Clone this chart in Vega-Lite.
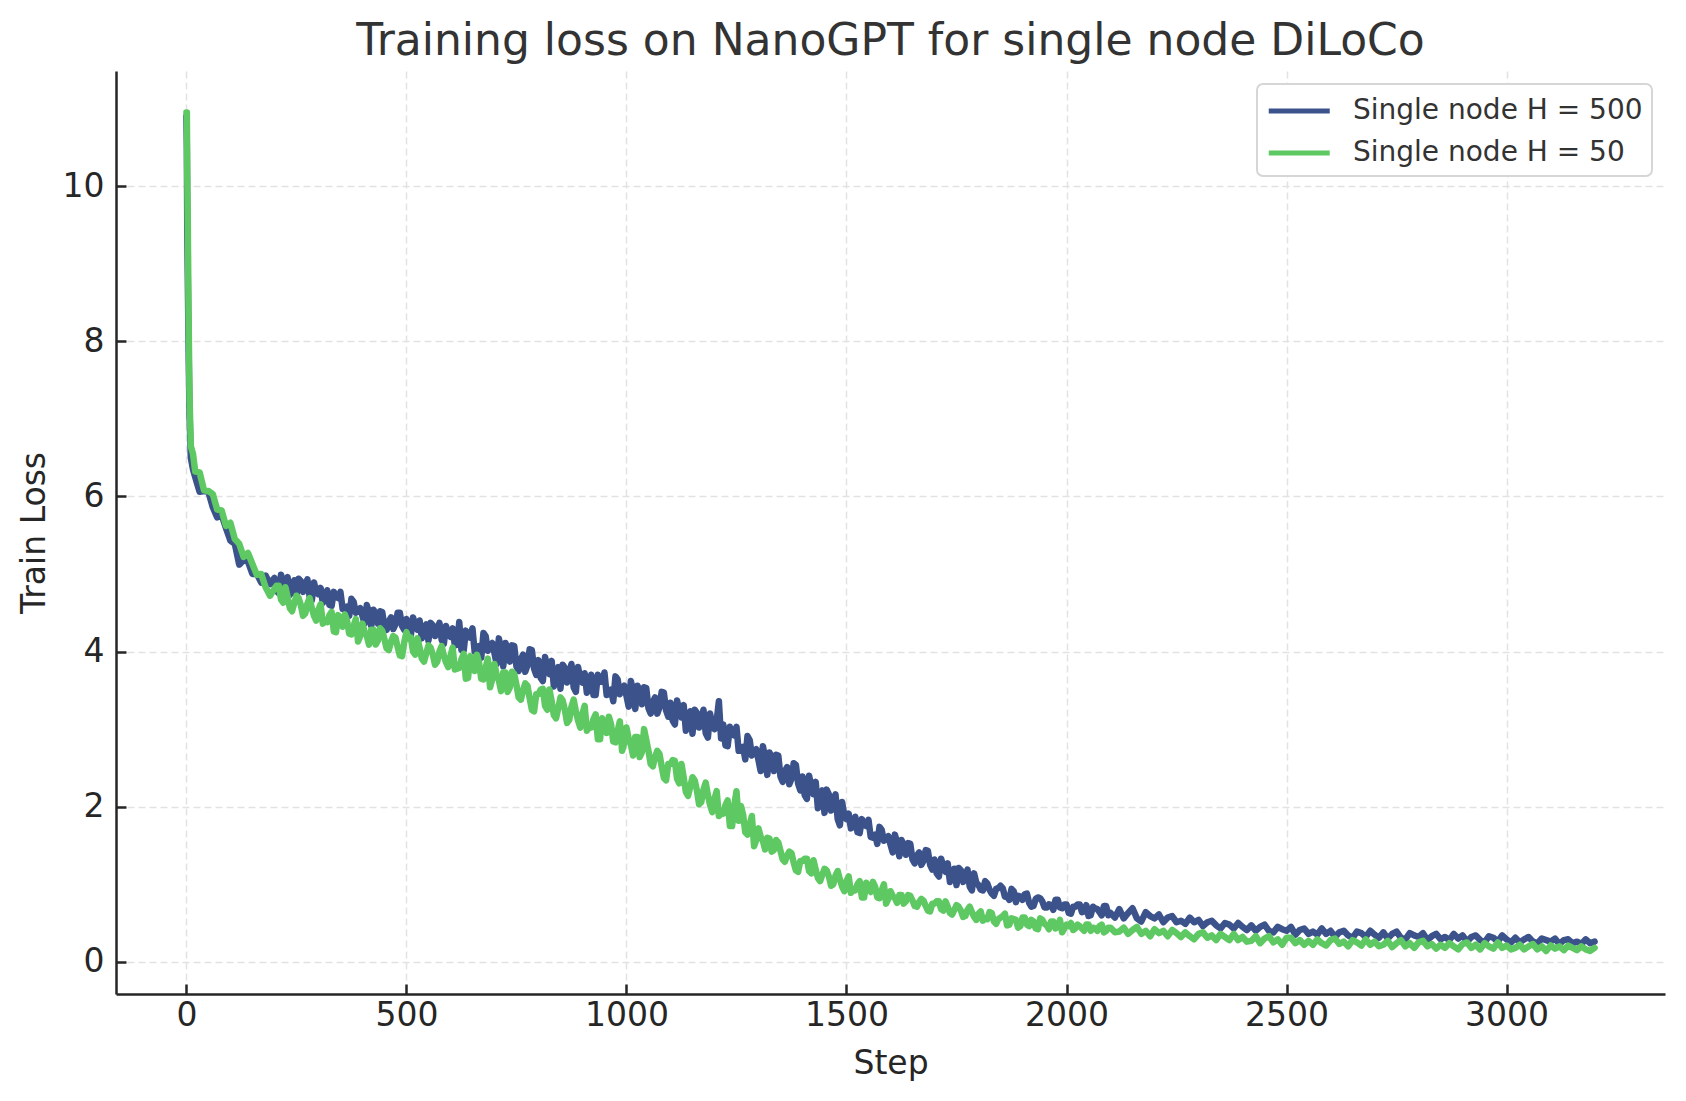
{
 "$schema": "https://vega.github.io/schema/vega-lite/v6.json",
 "width": 1549,
 "height": 923,
 "autosize": "none",
 "padding": {"left": 116, "top": 71, "right": 21, "bottom": 107},
 "background": "white",
 "title": {"text": "Training loss on NanoGPT for single node DiLoCo", "font": "DejaVu Sans", "fontSize": 44, "fontWeight": "normal", "color": "#333333", "anchor": "middle", "offset": 7},
 "config": {
  "view": {"stroke": null},
  "axis": {"domainColor": "#262626", "domainWidth": 2.5, "tickColor": "#262626", "tickWidth": 2.5, "tickSize": -10, "labelFont": "DejaVu Sans", "labelFontSize": 33, "labelColor": "#262626", "titleFont": "DejaVu Sans", "titleFontSize": 33, "titleFontWeight": "normal", "titleColor": "#262626", "grid": true, "gridColor": "#e2e2e2", "gridDash": [7, 4], "gridWidth": 1.5},
  "legend": {"strokeWidth": 2}
 },
 "data": {"values": [
  {"s":0,"a":10.9,"b":10.95},{"s":1,"a":10.5,"b":10.95},{"s":2,"a":9.4,"b":10.1},{"s":3,"a":8.9,"b":9.6},{"s":5,"a":7.9,"b":8.3},{"s":7,"a":7.1,"b":7.3},{"s":10,"a":6.5,"b":6.65},{"s":15,"a":6.35,"b":6.55},
  {"s":20,"a":6.25,"b":6.32},{"s":30,"a":6.06,"b":6.31},{"s":40,"a":6.07,"b":6.08},{"s":50,"a":6.06,"b":6.07},{"s":60,"a":5.86,"b":6.03},{"s":70,"a":5.73,"b":5.83},{"s":80,"a":5.76,"b":5.82},{"s":90,"a":5.59,"b":5.62},{"s":100,"a":5.43,"b":5.66},{"s":110,"a":5.39,"b":5.45},
  {"s":120,"a":5.12,"b":5.39},{"s":130,"a":5.18,"b":5.22},{"s":140,"a":5.16,"b":5.27},{"s":150,"a":5.0,"b":5.13},{"s":160,"a":5.0,"b":4.99},{"s":170,"a":4.89,"b":5.0},{"s":180,"a":4.98,"b":4.83},{"s":190,"a":4.87,"b":4.72},
  {"s":200,"a":4.95,"b":4.81},{"s":210,"a":4.75,"b":4.85},{"s":220,"a":4.9,"b":4.63},{"s":230,"a":4.96,"b":4.7},{"s":240,"a":4.81,"b":4.52},{"s":250,"a":4.72,"b":4.72},{"s":260,"a":4.91,"b":4.6},{"s":270,"a":4.85,"b":4.49},{"s":280,"a":4.71,"b":4.69},{"s":290,"a":4.89,"b":4.46},{"s":300,"a":4.74,"b":4.54},{"s":310,"a":4.63,"b":4.36},
  {"s":320,"a":4.79,"b":4.38},{"s":330,"a":4.59,"b":4.51},{"s":340,"a":4.71,"b":4.25},{"s":350,"a":4.77,"b":4.39},{"s":360,"a":4.55,"b":4.48},{"s":370,"a":4.46,"b":4.23},{"s":380,"a":4.64,"b":4.33},{"s":390,"a":4.53,"b":4.13},{"s":400,"a":4.46,"b":4.36},{"s":410,"a":4.6,"b":4.2},
  {"s":420,"a":4.33,"b":4.28},{"s":430,"a":4.49,"b":4.09},{"s":440,"a":4.52,"b":4.3},{"s":450,"a":4.32,"b":4.16},{"s":460,"a":4.39,"b":4.02},{"s":470,"a":4.29,"b":4.2},{"s":480,"a":4.5,"b":4.06},{"s":490,"a":4.33,"b":3.94},{"s":500,"a":4.42,"b":4.25},{"s":510,"a":4.21,"b":4.18},
  {"s":520,"a":4.35,"b":3.96},{"s":530,"a":4.4,"b":4.05},{"s":540,"a":4.24,"b":3.87},{"s":550,"a":4.14,"b":4.08},{"s":560,"a":4.34,"b":3.96},{"s":570,"a":4.28,"b":3.87},{"s":580,"a":4.15,"b":4.07},{"s":590,"a":4.33,"b":3.86},{"s":600,"a":4.19,"b":3.94},{"s":610,"a":4.08,"b":3.77},
  {"s":620,"a":4.38,"b":3.79},{"s":630,"a":4.01,"b":3.97},{"s":640,"a":4.19,"b":3.66},{"s":650,"a":4.3,"b":3.84},{"s":660,"a":4.01,"b":3.96},{"s":670,"a":3.92,"b":3.65},{"s":680,"a":4.2,"b":3.79},{"s":690,"a":4.07,"b":3.54},{"s":700,"a":3.98,"b":3.84},{"s":710,"a":4.17,"b":3.63},
  {"s":720,"a":3.81,"b":3.73},{"s":730,"a":4.04,"b":3.48},{"s":740,"a":4.08,"b":3.74},{"s":750,"a":3.81,"b":3.57},{"s":760,"a":3.9,"b":3.38},{"s":770,"a":3.74,"b":3.59},{"s":780,"a":4.03,"b":3.4},{"s":790,"a":3.78,"b":3.23},{"s":800,"a":3.89,"b":3.45},{"s":810,"a":3.62,"b":3.52},
  {"s":820,"a":3.8,"b":3.25},{"s":830,"a":3.88,"b":3.36},{"s":840,"a":3.65,"b":3.14},{"s":850,"a":3.52,"b":3.41},{"s":860,"a":3.79,"b":3.25},{"s":870,"a":3.72,"b":3.12},{"s":880,"a":3.54,"b":3.38},{"s":890,"a":3.8,"b":3.11},{"s":900,"a":3.6,"b":3.2},{"s":910,"a":3.47,"b":2.98},
  {"s":920,"a":3.7,"b":3.02},{"s":930,"a":3.44,"b":3.19},{"s":940,"a":3.61,"b":2.87},{"s":950,"a":3.73,"b":3.04},{"s":960,"a":3.45,"b":3.16},{"s":970,"a":3.36,"b":2.84},{"s":980,"a":3.64,"b":2.98},{"s":990,"a":3.51,"b":2.72},{"s":1000,"a":3.43,"b":3.02},{"s":1010,"a":3.62,"b":2.8},
  {"s":1020,"a":3.26,"b":2.9},{"s":1030,"a":3.49,"b":2.64},{"s":1040,"a":3.54,"b":3.0},{"s":1050,"a":3.27,"b":2.72},{"s":1060,"a":3.35,"b":2.52},{"s":1070,"a":3.2,"b":2.72},{"s":1080,"a":3.48,"b":2.52},{"s":1090,"a":3.24,"b":2.34},{"s":1100,"a":3.34,"b":2.55},{"s":1110,"a":3.06,"b":2.59},
  {"s":1120,"a":3.24,"b":2.3},{"s":1130,"a":3.31,"b":2.38},{"s":1140,"a":3.08,"b":2.14},{"s":1150,"a":2.94,"b":2.38},{"s":1160,"a":3.21,"b":2.21},{"s":1170,"a":3.13,"b":2.06},{"s":1180,"a":2.95,"b":2.31},{"s":1190,"a":3.2,"b":2.02},{"s":1200,"a":3.0,"b":2.1},{"s":1210,"a":3.36,"b":1.88},
  {"s":1220,"a":3.06,"b":1.91},{"s":1230,"a":2.78,"b":2.08},{"s":1240,"a":2.93,"b":1.75},{"s":1250,"a":3.03,"b":2.2},{"s":1260,"a":2.72,"b":2.01},{"s":1270,"a":2.61,"b":1.67},{"s":1280,"a":2.86,"b":1.77},{"s":1290,"a":2.71,"b":1.49},{"s":1300,"a":2.6,"b":1.72},{"s":1310,"a":2.78,"b":1.56},
  {"s":1320,"a":2.41,"b":1.6},{"s":1330,"a":2.63,"b":1.42},{"s":1340,"a":2.67,"b":1.57},{"s":1350,"a":2.39,"b":1.43},{"s":1360,"a":2.46,"b":1.29},{"s":1370,"a":2.29,"b":1.42},{"s":1380,"a":2.56,"b":1.28},{"s":1390,"a":2.3,"b":1.16},{"s":1400,"a":2.39,"b":1.3},{"s":1410,"a":2.1,"b":1.33},
  {"s":1420,"a":2.26,"b":1.14},{"s":1430,"a":2.32,"b":1.19},{"s":1440,"a":2.07,"b":1.04},{"s":1450,"a":1.92,"b":1.2},{"s":1460,"a":2.16,"b":1.1},{"s":1470,"a":2.05,"b":1.0},{"s":1480,"a":1.84,"b":1.17},{"s":1490,"a":2.06,"b":0.97},{"s":1500,"a":1.84,"b":1.04},{"s":1510,"a":1.72,"b":0.89},
  {"s":1520,"a":1.87,"b":0.92},{"s":1530,"a":1.66,"b":1.04},{"s":1540,"a":1.77,"b":0.83},{"s":1550,"a":1.83,"b":0.95},{"s":1560,"a":1.6,"b":1.03},{"s":1570,"a":1.52,"b":0.83},{"s":1580,"a":1.7,"b":0.92},{"s":1590,"a":1.59,"b":0.75},{"s":1600,"a":1.51,"b":0.91},{"s":1610,"a":1.64,"b":0.82},
  {"s":1620,"a":1.36,"b":0.86},{"s":1630,"a":1.51,"b":0.75},{"s":1640,"a":1.53,"b":0.86},{"s":1650,"a":1.32,"b":0.79},{"s":1660,"a":1.37,"b":0.71},{"s":1670,"a":1.25,"b":0.81},{"s":1680,"a":1.44,"b":0.72},{"s":1690,"a":1.25,"b":0.65},{"s":1700,"a":1.32,"b":0.75},{"s":1710,"a":1.1,"b":0.78},
  {"s":1720,"a":1.23,"b":0.66},{"s":1730,"a":1.27,"b":0.71},{"s":1740,"a":1.1,"b":0.61},{"s":1750,"a":0.99,"b":0.73},{"s":1760,"a":1.18,"b":0.66},{"s":1770,"a":1.11,"b":0.59},{"s":1780,"a":0.97,"b":0.71},{"s":1790,"a":1.14,"b":0.58},{"s":1800,"a":0.99,"b":0.62},{"s":1810,"a":0.92,"b":0.53},
  {"s":1820,"a":1.01,"b":0.55},{"s":1830,"a":0.88,"b":0.63},{"s":1840,"a":0.94,"b":0.49},{"s":1850,"a":0.98,"b":0.57},{"s":1860,"a":0.84,"b":0.62},{"s":1870,"a":0.8,"b":0.48},{"s":1880,"a":0.91,"b":0.55},{"s":1890,"a":0.85,"b":0.44},{"s":1900,"a":0.8,"b":0.57},{"s":1910,"a":0.88,"b":0.48},
  {"s":1920,"a":0.71,"b":0.54},{"s":1930,"a":0.81,"b":0.43},{"s":1940,"a":0.82,"b":0.56},{"s":1950,"a":0.7,"b":0.49},{"s":1960,"a":0.74,"b":0.42},{"s":1970,"a":0.67,"b":0.52},{"s":1980,"a":0.8,"b":0.45},{"s":1990,"a":0.69,"b":0.38},{"s":2000,"a":0.74,"b":0.48},{"s":2010,"a":0.62,"b":0.5},
  {"s":2020,"a":0.71,"b":0.43},{"s":2030,"a":0.74,"b":0.46},{"s":2040,"a":0.65,"b":0.4},{"s":2050,"a":0.59,"b":0.48},{"s":2060,"a":0.71,"b":0.44},{"s":2070,"a":0.68,"b":0.4},{"s":2080,"a":0.6,"b":0.48},{"s":2090,"a":0.72,"b":0.4},{"s":2100,"a":0.63,"b":0.44},{"s":2110,"a":0.57,"b":0.38},
  {"s":2120,"a":0.68,"b":0.39},{"s":2130,"a":0.56,"b":0.44},{"s":2140,"a":0.63,"b":0.36},{"s":2150,"a":0.69,"b":0.41},{"s":2160,"a":0.56,"b":0.45},{"s":2170,"a":0.52,"b":0.36},{"s":2180,"a":0.64,"b":0.4},{"s":2190,"a":0.59,"b":0.33},{"s":2200,"a":0.56,"b":0.42},{"s":2210,"a":0.61,"b":0.37},
  {"s":2220,"a":0.51,"b":0.4},{"s":2230,"a":0.57,"b":0.33},{"s":2240,"a":0.59,"b":0.41},{"s":2250,"a":0.51,"b":0.37},{"s":2260,"a":0.53,"b":0.32},{"s":2270,"a":0.49,"b":0.38},{"s":2280,"a":0.57,"b":0.33},{"s":2290,"a":0.51,"b":0.29},{"s":2300,"a":0.54,"b":0.36},{"s":2310,"a":0.46,"b":0.38},
  {"s":2320,"a":0.51,"b":0.31},{"s":2330,"a":0.53,"b":0.34},{"s":2340,"a":0.47,"b":0.28},{"s":2350,"a":0.43,"b":0.36},{"s":2360,"a":0.5,"b":0.32},{"s":2370,"a":0.48,"b":0.28},{"s":2380,"a":0.43,"b":0.36},{"s":2390,"a":0.5,"b":0.28},{"s":2400,"a":0.45,"b":0.32},{"s":2410,"a":0.41,"b":0.26},
  {"s":2420,"a":0.47,"b":0.27},{"s":2430,"a":0.4,"b":0.33},{"s":2440,"a":0.45,"b":0.24},{"s":2450,"a":0.48,"b":0.3},{"s":2460,"a":0.4,"b":0.33},{"s":2470,"a":0.38,"b":0.25},{"s":2480,"a":0.45,"b":0.29},{"s":2490,"a":0.42,"b":0.22},{"s":2500,"a":0.4,"b":0.31},{"s":2510,"a":0.45,"b":0.31},
  {"s":2520,"a":0.35,"b":0.24},{"s":2530,"a":0.41,"b":0.28},{"s":2540,"a":0.43,"b":0.22},{"s":2550,"a":0.36,"b":0.27},{"s":2560,"a":0.39,"b":0.22},{"s":2570,"a":0.35,"b":0.29},{"s":2580,"a":0.43,"b":0.24},{"s":2590,"a":0.36,"b":0.21},{"s":2600,"a":0.4,"b":0.28},{"s":2610,"a":0.32,"b":0.3},
  {"s":2620,"a":0.38,"b":0.23},{"s":2630,"a":0.4,"b":0.26},{"s":2640,"a":0.34,"b":0.2},{"s":2650,"a":0.31,"b":0.28},{"s":2660,"a":0.39,"b":0.25},{"s":2670,"a":0.37,"b":0.21},{"s":2680,"a":0.32,"b":0.29},{"s":2690,"a":0.4,"b":0.22},{"s":2700,"a":0.35,"b":0.26},{"s":2710,"a":0.31,"b":0.2},
  {"s":2720,"a":0.38,"b":0.22},{"s":2730,"a":0.3,"b":0.27},{"s":2740,"a":0.36,"b":0.19},{"s":2750,"a":0.39,"b":0.24},{"s":2760,"a":0.31,"b":0.28},{"s":2770,"a":0.29,"b":0.2},{"s":2780,"a":0.37,"b":0.24},{"s":2790,"a":0.34,"b":0.18},{"s":2800,"a":0.32,"b":0.25},{"s":2810,"a":0.37,"b":0.27},
  {"s":2820,"a":0.28,"b":0.2},{"s":2830,"a":0.33,"b":0.23},{"s":2840,"a":0.36,"b":0.17},{"s":2850,"a":0.29,"b":0.22},{"s":2860,"a":0.32,"b":0.18},{"s":2870,"a":0.28,"b":0.24},{"s":2880,"a":0.36,"b":0.2},{"s":2890,"a":0.3,"b":0.16},{"s":2900,"a":0.34,"b":0.23},{"s":2910,"a":0.26,"b":0.25},
  {"s":2920,"a":0.32,"b":0.18},{"s":2930,"a":0.34,"b":0.22},{"s":2940,"a":0.28,"b":0.16},{"s":2950,"a":0.25,"b":0.24},{"s":2960,"a":0.33,"b":0.2},{"s":2970,"a":0.31,"b":0.17},{"s":2980,"a":0.26,"b":0.25},{"s":2990,"a":0.34,"b":0.18},{"s":3000,"a":0.29,"b":0.21},{"s":3010,"a":0.25,"b":0.16},
  {"s":3020,"a":0.31,"b":0.18},{"s":3030,"a":0.25,"b":0.22},{"s":3040,"a":0.29,"b":0.16},{"s":3050,"a":0.32,"b":0.2},{"s":3060,"a":0.26,"b":0.23},{"s":3070,"a":0.24,"b":0.16},{"s":3080,"a":0.3,"b":0.2},{"s":3090,"a":0.28,"b":0.14},{"s":3100,"a":0.26,"b":0.21},{"s":3110,"a":0.3,"b":0.17},
  {"s":3120,"a":0.23,"b":0.2},{"s":3130,"a":0.28,"b":0.15},{"s":3140,"a":0.29,"b":0.21},{"s":3150,"a":0.24,"b":0.18},{"s":3160,"a":0.26,"b":0.15},{"s":3170,"a":0.23,"b":0.2},{"s":3180,"a":0.29,"b":0.16},{"s":3190,"a":0.24,"b":0.14},{"s":3200,"a":0.26,"b":0.18},
  {"s":205,"a":4.78,"b":4.85},{"s":215,"a":4.99,"b":4.67},{"s":225,"a":4.84,"b":4.83},{"s":235,"a":4.73,"b":4.56},{"s":245,"a":4.92,"b":4.62},{"s":255,"a":4.94,"b":4.69},{"s":265,"a":4.77,"b":4.46},{"s":275,"a":4.93,"b":4.62},{"s":285,"a":4.66,"b":4.56},{"s":295,"a":4.77,"b":4.4},
  {"s":305,"a":4.82,"b":4.61},{"s":315,"a":4.66,"b":4.39},{"s":325,"a":4.6,"b":4.47},{"s":335,"a":4.77,"b":4.26},{"s":345,"a":4.69,"b":4.47},{"s":355,"a":4.55,"b":4.32},{"s":365,"a":4.58,"b":4.4},{"s":375,"a":4.68,"b":4.22},{"s":385,"a":4.5,"b":4.42},{"s":395,"a":4.56,"b":4.2},
  {"s":405,"a":4.36,"b":4.25},{"s":415,"a":4.5,"b":4.09},{"s":425,"a":4.54,"b":4.28},{"s":435,"a":4.36,"b":4.14},{"s":445,"a":4.51,"b":4.27},{"s":455,"a":4.28,"b":4.04},{"s":465,"a":4.44,"b":4.13},{"s":475,"a":4.35,"b":4.18},{"s":485,"a":4.5,"b":3.95},{"s":495,"a":4.28,"b":4.12},
  {"s":505,"a":4.25,"b":4.17},{"s":515,"a":4.44,"b":4.0},{"s":525,"a":4.28,"b":4.17},{"s":535,"a":4.17,"b":3.91},{"s":545,"a":4.35,"b":3.98},{"s":555,"a":4.37,"b":4.05},{"s":565,"a":4.2,"b":3.83},{"s":575,"a":4.37,"b":4.0},{"s":585,"a":4.1,"b":3.95},{"s":595,"a":4.22,"b":3.8},
  {"s":605,"a":4.3,"b":4.05},{"s":615,"a":4.09,"b":3.78},{"s":625,"a":4.02,"b":3.9},{"s":635,"a":4.27,"b":3.65},{"s":645,"a":4.18,"b":3.94},{"s":655,"a":4.0,"b":3.75},{"s":665,"a":4.07,"b":3.86},{"s":675,"a":4.24,"b":3.64},{"s":685,"a":4.01,"b":3.91},{"s":695,"a":4.11,"b":3.64},
  {"s":705,"a":3.84,"b":3.7},{"s":715,"a":4.04,"b":3.49},{"s":725,"a":4.11,"b":3.73},{"s":735,"a":3.87,"b":3.54},{"s":745,"a":4.07,"b":3.71},{"s":755,"a":3.75,"b":3.41},{"s":765,"a":3.96,"b":3.5},{"s":775,"a":3.82,"b":3.56},{"s":785,"a":4.02,"b":3.25},{"s":795,"a":3.7,"b":3.45},
  {"s":805,"a":3.66,"b":3.51},{"s":815,"a":3.93,"b":3.3},{"s":825,"a":3.71,"b":3.51},{"s":835,"a":3.55,"b":3.18},{"s":845,"a":3.8,"b":3.27},{"s":855,"a":3.83,"b":3.37},{"s":865,"a":3.6,"b":3.08},{"s":875,"a":3.84,"b":3.29},{"s":885,"a":3.48,"b":3.23},{"s":895,"a":3.65,"b":3.02},
  {"s":905,"a":3.72,"b":3.3},{"s":915,"a":3.51,"b":3.02},{"s":925,"a":3.44,"b":3.13},{"s":935,"a":3.7,"b":2.87},{"s":945,"a":3.61,"b":3.14},{"s":955,"a":3.44,"b":2.95},{"s":965,"a":3.51,"b":3.06},{"s":975,"a":3.68,"b":2.83},{"s":985,"a":3.45,"b":3.1},{"s":995,"a":3.56,"b":2.82},
  {"s":1005,"a":3.29,"b":2.88},{"s":1015,"a":3.49,"b":2.66},{"s":1025,"a":3.56,"b":2.9},{"s":1035,"a":3.32,"b":2.7},{"s":1045,"a":3.53,"b":2.86},{"s":1055,"a":3.2,"b":2.55},{"s":1065,"a":3.41,"b":2.64},{"s":1075,"a":3.28,"b":2.68},{"s":1085,"a":3.47,"b":2.37},{"s":1095,"a":3.16,"b":2.55},
  {"s":1105,"a":3.11,"b":2.6},{"s":1115,"a":3.37,"b":2.36},{"s":1125,"a":3.15,"b":2.55},{"s":1135,"a":2.98,"b":2.19},{"s":1145,"a":3.23,"b":2.26},{"s":1155,"a":3.25,"b":2.34},{"s":1165,"a":3.02,"b":2.03},{"s":1175,"a":3.25,"b":2.22},{"s":1185,"a":2.89,"b":2.15},{"s":1195,"a":3.05,"b":1.93},
  {"s":1205,"a":3.11,"b":2.2},{"s":1215,"a":2.88,"b":1.91},{"s":1225,"a":2.79,"b":2.02},{"s":1235,"a":3.03,"b":1.75},{"s":1245,"a":2.92,"b":2.02},{"s":1255,"a":2.72,"b":1.82},{"s":1265,"a":2.77,"b":1.9},{"s":1275,"a":2.91,"b":1.64},{"s":1285,"a":2.66,"b":1.88},{"s":1295,"a":2.74,"b":1.57},
  {"s":1305,"a":2.46,"b":1.61},{"s":1315,"a":2.64,"b":1.45},{"s":1325,"a":2.7,"b":1.59},{"s":1335,"a":2.46,"b":1.44},{"s":1345,"a":2.66,"b":1.54},{"s":1355,"a":2.32,"b":1.32},{"s":1365,"a":2.51,"b":1.37},{"s":1375,"a":2.36,"b":1.4},{"s":1385,"a":2.54,"b":1.18},{"s":1395,"a":2.21,"b":1.3},
  {"s":1405,"a":2.15,"b":1.33},{"s":1415,"a":2.4,"b":1.17},{"s":1425,"a":2.16,"b":1.31},{"s":1435,"a":1.98,"b":1.08},{"s":1445,"a":2.21,"b":1.12},{"s":1455,"a":2.22,"b":1.18},{"s":1465,"a":1.95,"b":0.98},{"s":1475,"a":2.16,"b":1.11},{"s":1485,"a":1.76,"b":1.06},{"s":1495,"a":1.89,"b":0.91},
  {"s":1505,"a":1.91,"b":1.1},{"s":1515,"a":1.74,"b":0.92},{"s":1525,"a":1.67,"b":1.0},{"s":1535,"a":1.84,"b":0.83},{"s":1545,"a":1.75,"b":1.02},{"s":1555,"a":1.61,"b":0.9},{"s":1565,"a":1.64,"b":0.97},{"s":1575,"a":1.74,"b":0.82},{"s":1585,"a":1.56,"b":1.0},{"s":1595,"a":1.62,"b":0.81},
  {"s":1605,"a":1.41,"b":0.85},{"s":1615,"a":1.53,"b":0.76},{"s":1625,"a":1.57,"b":0.86},{"s":1635,"a":1.38,"b":0.78},{"s":1645,"a":1.52,"b":0.85},{"s":1655,"a":1.27,"b":0.72},{"s":1665,"a":1.41,"b":0.77},{"s":1675,"a":1.3,"b":0.79},{"s":1685,"a":1.43,"b":0.66},{"s":1695,"a":1.19,"b":0.75},
  {"s":1705,"a":1.14,"b":0.78},{"s":1715,"a":1.33,"b":0.68},{"s":1725,"a":1.16,"b":0.78},{"s":1735,"a":1.03,"b":0.63},{"s":1745,"a":1.2,"b":0.67},{"s":1755,"a":1.21,"b":0.71},{"s":1765,"a":1.03,"b":0.58},{"s":1775,"a":1.19,"b":0.67},{"s":1785,"a":0.92,"b":0.64},{"s":1795,"a":1.02,"b":0.54},
  {"s":1805,"a":0.93,"b":0.65},{"s":1815,"a":1.04,"b":0.56},{"s":1825,"a":0.93,"b":0.64},{"s":1835,"a":0.85,"b":0.52},{"s":1845,"a":0.95,"b":0.55},{"s":1855,"a":0.95,"b":0.59},{"s":1865,"a":0.84,"b":0.47},{"s":1875,"a":0.94,"b":0.56},{"s":1885,"a":0.77,"b":0.54},{"s":1895,"a":0.84,"b":0.46},
  {"s":1905,"a":0.87,"b":0.57},{"s":1915,"a":0.76,"b":0.46},{"s":1925,"a":0.72,"b":0.52},{"s":1935,"a":0.83,"b":0.42},{"s":1945,"a":0.78,"b":0.54},{"s":1955,"a":0.7,"b":0.47},{"s":1965,"a":0.73,"b":0.52},{"s":1975,"a":0.8,"b":0.43},{"s":1985,"a":0.7,"b":0.54},{"s":1995,"a":0.74,"b":0.43},
  {"s":2005,"a":0.63,"b":0.46},{"s":2015,"a":0.71,"b":0.41},{"s":2025,"a":0.74,"b":0.48},{"s":2035,"a":0.64,"b":0.43},{"s":2045,"a":0.73,"b":0.48},{"s":2055,"a":0.6,"b":0.4},{"s":2065,"a":0.69,"b":0.43},{"s":2075,"a":0.64,"b":0.46},{"s":2085,"a":0.72,"b":0.38},{"s":2095,"a":0.6,"b":0.44}
 ]},
 "encoding": {
  "x": {"field": "s", "type": "quantitative", "title": "Step",
   "scale": {"domain": [-160, 3360], "nice": false, "zero": false},
   "axis": {"values": [0, 500, 1000, 1500, 2000, 2500, 3000], "format": "d", "labelPadding": 15, "titlePadding": 15, "labelFlush": false}}
 },
 "layer": [
  {"mark": {"type": "line", "strokeWidth": 6.5, "strokeJoin": "round", "strokeCap": "round"},
   "encoding": {
    "y": {"field": "a", "type": "quantitative", "title": "Train Loss",
     "scale": {"domain": [-0.415, 11.485], "nice": false, "zero": false},
     "axis": {"values": [0, 2, 4, 6, 8, 10], "format": "d", "labelPadding": 22, "titlePadding": 11}},
    "color": {"datum": "Single node H = 500", "type": "nominal",
     "scale": {"domain": ["Single node H = 500", "Single node H = 50"], "range": ["#3b528b", "#5ec962"]},
     "legend": {"title": null, "orient": "top-right", "offset": 13, "labelFont": "DejaVu Sans", "labelFontSize": 28, "labelColor": "#333333", "labelLimit": 0, "symbolType": "M-1,0L3,0", "symbolSize": 930, "symbolStrokeWidth": 5, "labelOffset": 51, "fillColor": "white", "strokeColor": "#d6d6d6", "cornerRadius": 6, "padding": 9, "rowPadding": 10}}
   }},
  {"mark": {"type": "line", "strokeWidth": 6.5, "strokeJoin": "round", "strokeCap": "round"},
   "encoding": {
    "y": {"field": "b", "type": "quantitative", "title": "Train Loss"},
    "color": {"datum": "Single node H = 50", "type": "nominal"}
   }}
 ]
}
